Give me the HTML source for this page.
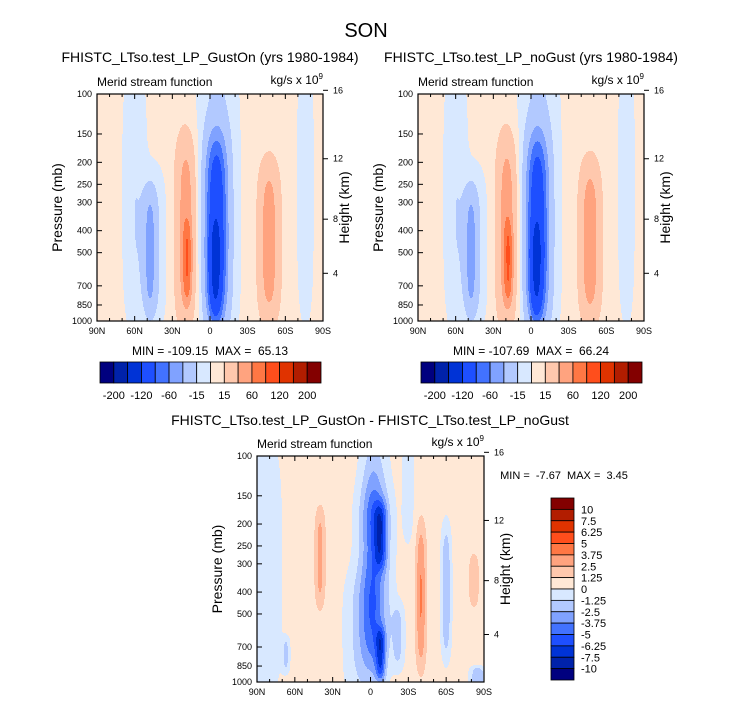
<!DOCTYPE html>
<html><head><meta charset="utf-8"><style>
body{margin:0;background:#fff;}
svg{display:block;font-family:"Liberation Sans",sans-serif;}
</style></head><body>
<svg id="chart" width="732" height="707" viewBox="0 0 732 707">
<text x="366" y="37" font-size="20" text-anchor="middle">SON</text>
</svg>
<script>
// ---- data ----
const latTicks = [90, 60, 30, 0, -30, -60, -90];
const latLabels = ["90N","60N","30N","0","30S","60S","90S"];
const presTicks = [100,150,200,250,300,400,500,700,850,1000];
const heightTicks = [16,12,8,4];
const levelsMain = [-200,-160,-120,-80,-60,-40,-15,0,15,40,60,80,120,160,200];
const labelsMain = ["-200","-120","-60","-15","15","60","120","200"];
const levelsDiff = [-10,-7.5,-6.25,-5,-3.75,-2.5,-1.25,0,1.25,2.5,3.75,5,6.25,7.5,10];
const labelsDiff = ["10","7.5","6.25","5","3.75","2.5","1.25","0","-1.25","-2.5","-3.75","-5","-6.25","-7.5","-10"];
const palette = ["#00007f","#0022aa","#0033d6","#1e4fff","#4272ff","#80a2ff","#b2c9ff","#d8e8ff","#ffe8d6","#ffc8ad","#ffa37f","#ff7744","#ff4e1c","#e03300","#b21d00","#830000"];
// blobs: [lat, latWidth, vCenter, vWidth, amplitude]
const baseMain = 6;
const blobsGustOn = [
 [60,9,0.45,0.6,-20],[44,9,0.68,0.36,-20],[48,5,0.7,0.28,-38],
 [19,8,0.6,0.42,48],[18,3.5,0.74,0.18,32],
 [-6,15,0.45,0.75,-26],[-5,9,0.6,0.42,-88],[-4,5,0.78,0.22,-40],
 [-47,8,0.65,0.35,48],[-76,6,0.40,0.60,-20]
];
const blobsNoGust = [
 [60,9,0.45,0.6,-20],[44,9,0.68,0.36,-20],[48,5,0.7,0.28,-38],
 [19,8,0.6,0.42,49],[18,3.5,0.74,0.18,33],
 [-6,15,0.45,0.75,-26],[-5,9,0.6,0.42,-86],[-4,5,0.78,0.22,-38],
 [-47,8,0.65,0.35,50],[-76,6,0.40,0.60,-20]
];
const baseDiff = 0.6;
const blobsDiff = [
 [82,12,0.5,0.6,-1.6],[8,14,0.8,0.3,-1.5],[-3,12,0.1,0.25,-1.4],[-30,5,0.1,0.3,-1.3],
 [40,4,0.45,0.22,2.4],[-3,13,0.55,0.42,-3.6],[-8,5,0.35,0.15,-4.2],[-8,4,0.88,0.12,-4.8],
 [-2,8,0.45,0.5,-1.5],[-22,5,0.8,0.15,-2],[-40,4,0.62,0.32,3.2],[-60,4,0.6,0.3,-3],
 [-82,4,0.55,0.12,1.6],[67,3,0.88,0.08,-2],[-85,6,0.98,0.05,-3]
];

const NS = "http://www.w3.org/2000/svg";
const svg = document.getElementById("chart");
function mk(tag, attrs, parent){const e=document.createElementNS(NS,tag);for(const k in attrs)e.setAttribute(k,attrs[k]);(parent||svg).appendChild(e);return e;}
function txt(x,y,s,size,anchor,parent){const t=mk("text",{x:x,y:y,"font-size":size,"text-anchor":anchor||"start"},parent);t.textContent=s;return t;}
function vOfP(p){return Math.log10(p/100);}
function pOfZ(zkm){return 1013.25*Math.pow(1-2.25577e-5*zkm*1000,5.25588);}
function colorIndex(val,levels){let i=0;while(i<levels.length&&val>=levels[i])i++;return i;}
function field(u,v,blobs,base){const lat=90-180*u;let f=base;for(const b of blobs){const dl=(lat-b[0])/b[1],dv=(v-b[2])/b[3];f+=b[4]*Math.exp(-dl*dl-dv*dv*dv*dv);}return f;}

function panel(name,x0,y0,w,h,blobs,base,levels){
 const g=mk("g",{});
 
 
 const sx=1, sy=1;
 for(let py=0;py<h;py+=sy){
  const v=(py+sy/2)/h;let runStart=0,runC=-1;
  for(let px=0;px<=w;px+=sx){
   const c=px<w?colorIndex(field((px+sx/2)/w,v,blobs,base),levels):-2;
   if(c!==runC){
    if(runC>=0){const r=mk("rect",{x:x0+runStart,y:y0+py,width:px-runStart,height:Math.min(sy,h-py)+0.4,fill:palette[runC]},g);
     
     }
    runStart=px;runC=c;}
  }
 }
 const fr=mk("rect",{x:x0,y:y0,width:w,height:h,fill:"none",stroke:"#000","stroke-width":1.2},g);
 
 
 for(let lat=90;lat>=-90;lat-=10){const x=x0+(90-lat)/180*w;const L=lat%30===0?5:3;
  mk("line",{x1:x,y1:y0,x2:x,y2:y0+L,stroke:"#000"},g);mk("line",{x1:x,y1:y0+h,x2:x,y2:y0+h-L,stroke:"#000"},g);}
 latTicks.forEach((lat,i)=>{const t=txt(x0+(90-lat)/180*w,y0+h+13,latLabels[i],9,"middle",g);
  
  });
 presTicks.forEach(p=>{const y=y0+vOfP(p)*h;mk("line",{x1:x0,y1:y,x2:x0+5,y2:y,stroke:"#000"},g);
  const t=txt(x0-5,y+3,String(p),9,"end",g);
  
  });
 heightTicks.forEach(z=>{const y=y0+vOfP(pOfZ(z))*h;mk("line",{x1:x0+w,y1:y,x2:x0+w+5,y2:y,stroke:"#000"},g);
  const t=txt(x0+w+10,y+3,String(z),9,"start",g);
  
  });
 const t1=txt(x0,y0-8,"Merid stream function",12,"start",g);
 
 
 const t2=mk("text",{x:x0+w,y:y0-10,"font-size":12,"text-anchor":"end"},g);t2.innerHTML='kg/s x 10<tspan dy="-5" font-size="8">9</tspan>';
 
 
 const ya=txt(0,0,"Pressure (mb)",14,"middle",g);ya.setAttribute("transform",`translate(${x0-35},${y0+h/2}) rotate(-90)`);
 
 
 const ha=txt(0,0,"Height (km)",14,"middle",g);ha.setAttribute("transform",`translate(${x0+w+26},${y0+h/2}) rotate(-90)`);
 
 
}

function hbar(name,x0,y0,w,h){
 const g=mk("g",{});
 
 
 const bw=w/palette.length;
 palette.forEach((c,i)=>{const r=mk("rect",{x:x0+i*bw,y:y0,width:bw,height:h,fill:c,stroke:"#000","stroke-width":0.8},g);
  
  });
 labelsMain.forEach((s,i)=>{const t=txt(x0+(2*i+1)*bw,y0+h+16,s,11,"middle",g);
  
  });
}
function vbar(name,x0,y0,w,h){
 const g=mk("g",{});
 
 
 const bh=h/palette.length;
 palette.slice().reverse().forEach((c,i)=>{const r=mk("rect",{x:x0,y:y0+i*bh,width:w,height:bh,fill:c,stroke:"#000","stroke-width":0.8},g);
  
  });
 labelsDiff.forEach((s,i)=>{const t=txt(x0+w+7,y0+(i+1)*bh+4,s,11,"start",g);
  
  });
}

panel("gust-on-panel",97,94,226,227,blobsGustOn,baseMain,levelsMain);
panel("no-gust-panel",418,94,226,227,blobsNoGust,baseMain,levelsMain);
panel("difference-panel",257,456,227,226,blobsDiff,baseDiff,levelsDiff);
hbar("gust-on-colorbar",100,362,221,21);
hbar("no-gust-colorbar",421,362,221,21);
vbar("difference-colorbar",551,498,23,182);

const titles=[[210,62,"FHISTC_LTso.test_LP_GustOn (yrs 1980-1984)",14,"panel-title-gust-on"],
[531,62,"FHISTC_LTso.test_LP_noGust (yrs 1980-1984)",14,"panel-title-no-gust"],
[370,425,"FHISTC_LTso.test_LP_GustOn - FHISTC_LTso.test_LP_noGust",14,"panel-title-difference"],
[210,355,"MIN = -109.15  MAX =  65.13",12,"gust-on-min-max"],
[531,355,"MIN = -107.69  MAX =  66.24",12,"no-gust-min-max"],
[564,479,"MIN =  -7.67  MAX =  3.45",11,"difference-min-max"]];
titles.forEach(a=>{const t=txt(a[0],a[1],a[2],a[3],"middle");t.setAttribute("xml:space","preserve");t.style.whiteSpace="pre";
 
 });
</script>
</body></html>
